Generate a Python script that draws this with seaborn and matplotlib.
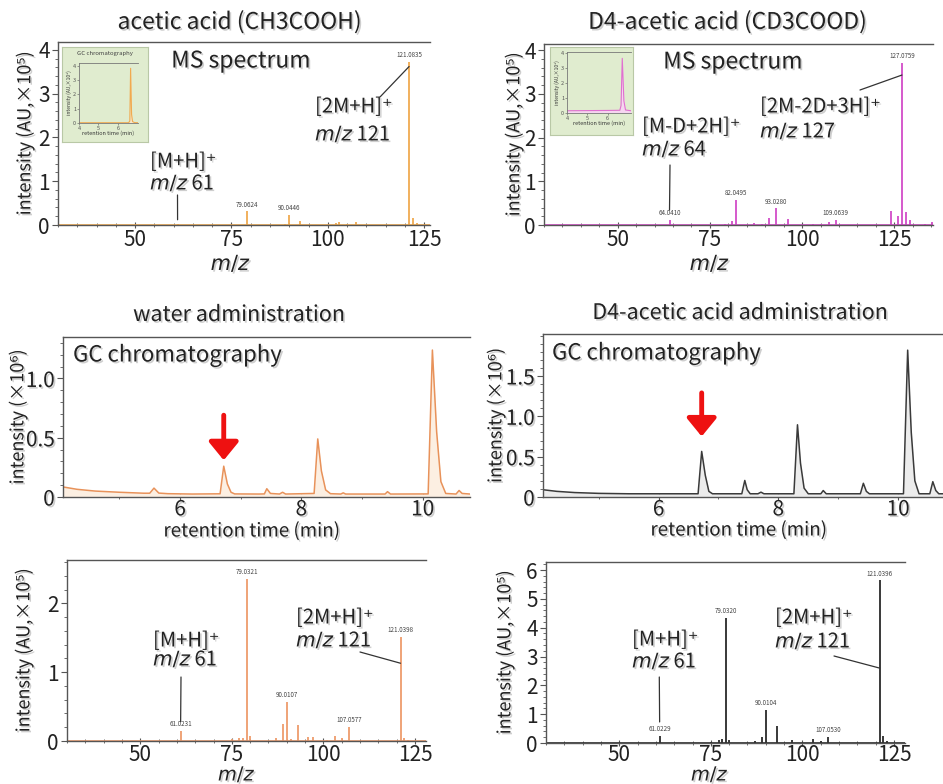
import numpy as np
import pandas as pd
import matplotlib
matplotlib.use("Agg")
import matplotlib.pyplot as plt
import seaborn as sns
from matplotlib.ticker import MultipleLocator, FixedLocator, AutoMinorLocator
import matplotlib.patheffects as pe
import matplotlib.text as mtext

# ---------------- data ----------------
# MS spectrum: acetic acid standard (top-left)
tl_mz = [61.02, 79.06, 88.9, 90.04, 92.9, 102.1, 103.0, 105.0, 107.2, 121.08, 122.0, 123.0]
tl_int = [0.03, 0.31, 0.03, 0.23, 0.08, 0.04, 0.07, 0.02, 0.07, 3.73, 0.17, 0.04]
tl_lab_mz = [79.06, 90.04, 121.08]
tl_lab_txt = ["79.0624", "90.0446", "121.0835"]

# MS spectrum: D4-acetic acid standard (top-right)
tr_mz = [64.04, 79.0, 81.1, 82.05, 86.9, 89.0, 90.9, 93.03, 96.2, 103.0, 105.0, 107.3,
         109.06, 124.1, 126.1, 127.08, 128.2, 129.2, 133.2, 135.2]
tr_int = [0.11, 0.02, 0.09, 0.58, 0.05, 0.03, 0.15, 0.38, 0.14, 0.03, 0.03, 0.08,
          0.11, 0.31, 0.21, 3.70, 0.30, 0.11, 0.03, 0.08]
tr_lab_mz = [64.04, 82.05, 93.03, 109.06, 127.08]
tr_lab_txt = ["64.0410", "82.0495", "93.0280", "109.0639", "127.0759"]

# MS spectrum: water administration (bottom-left)
bl_mz = [61.02, 75.0, 77.0, 78.0, 79.03, 80.0, 87.1, 89.1, 90.01, 91.2, 93.1, 95.9, 97.2,
         101.1, 103.1, 105.2, 107.06, 121.04, 122.1, 123.0]
bl_int = [0.15, 0.03, 0.05, 0.04, 2.35, 0.07, 0.05, 0.24, 0.57, 0.03, 0.23, 0.06, 0.06,
          0.02, 0.07, 0.05, 0.20, 1.51, 0.05, 0.02]
bl_lab_mz = [61.02, 79.03, 90.01, 107.06, 121.04]
bl_lab_txt = ["61.0231", "79.0321", "90.0107", "107.0577", "121.0398"]

# MS spectrum: D4-acetic acid administration (bottom-right)
br_mz = [61.02, 75.0, 77.1, 78.0, 79.03, 80.0, 87.1, 88.9, 90.01, 93.0, 97.1, 103.0,
         105.1, 107.05, 121.04, 122.1, 123.0]
br_int = [0.26, 0.05, 0.09, 0.14, 4.34, 0.12, 0.06, 0.20, 1.14, 0.58, 0.12, 0.14,
          0.07, 0.22, 5.64, 0.26, 0.07]
br_lab_mz = [61.02, 79.03, 90.01, 107.05, 121.04]
br_lab_txt = ["61.0229", "79.0320", "90.0104", "107.0530", "121.0396"]

# GC chromatogram: water administration (middle-left), x10^6
ml_t = [4.07, 4.3, 4.6, 5.0, 5.4, 5.50, 5.57, 5.65, 5.8, 6.2, 6.66, 6.72, 6.78, 6.84, 6.9,
        7.3, 7.39, 7.43, 7.49, 7.64, 7.69, 7.74, 8.21, 8.27, 8.33, 8.40, 8.48, 8.65, 8.69,
        8.73, 9.38, 9.42, 9.47, 10.09, 10.16, 10.23, 10.30, 10.38, 10.55, 10.6, 10.65, 10.78]
ml_i = [0.085, 0.065, 0.05, 0.04, 0.032, 0.032, 0.075, 0.033, 0.028, 0.025, 0.027, 0.26,
        0.11, 0.04, 0.026, 0.025, 0.026, 0.07, 0.03, 0.025, 0.04, 0.025, 0.03, 0.49, 0.22,
        0.06, 0.028, 0.025, 0.035, 0.025, 0.025, 0.045, 0.025, 0.026, 1.24, 0.55, 0.13,
        0.03, 0.025, 0.055, 0.03, 0.025]

# GC chromatogram: D4-acetic acid administration (middle-right), x10^6
mr_t = [4.07, 4.3, 4.6, 5.0, 5.5, 6.0, 6.66, 6.72, 6.78, 6.84, 6.9, 7.39, 7.44, 7.48, 7.53,
        7.66, 7.71, 7.76, 8.26, 8.32, 8.37, 8.43, 8.5, 8.71, 8.75, 8.8, 9.37, 9.42, 9.47,
        9.52, 10.09, 10.16, 10.22, 10.28, 10.35, 10.53, 10.58, 10.63, 10.68, 10.75]
mr_i = [0.09, 0.07, 0.055, 0.045, 0.04, 0.04, 0.04, 0.565, 0.27, 0.07, 0.04, 0.04, 0.205,
        0.09, 0.04, 0.04, 0.06, 0.04, 0.04, 0.895, 0.42, 0.11, 0.04, 0.04, 0.08, 0.04,
        0.04, 0.17, 0.07, 0.04, 0.04, 1.82, 0.8, 0.2, 0.04, 0.04, 0.19, 0.08, 0.04, 0.04]

# inset GC traces of the standards
in_l_t = [4.0, 6.55, 6.61, 6.65, 6.70, 6.75, 6.85, 7.03]
in_l_i = [0.02, 0.02, 0.15, 3.83, 0.6, 0.1, 0.03, 0.02]
in_r_t = [4.0, 6.0, 6.6, 6.66, 6.72, 6.80, 6.88, 7.15]
in_r_i = [0.15, 0.17, 0.18, 0.5, 3.63, 0.8, 0.2, 0.15]

ms_ticks = [50, 75, 100, 125]
gc_ticks = [6, 8, 10]

# ---------------- styling ----------------
sns.set_theme(style="ticks")
plt.rcParams["font.family"] = ["Noto Sans CJK JP", "DejaVu Sans"]
plt.rcParams["mathtext.fontset"] = "dejavusans"

W, H = 943, 784
fig = plt.figure(figsize=(W / 100, H / 100), dpi=100)
fig.patch.set_facecolor("white")

C_OR = "#f0aa50"
C_SAL = "#ee9c6c"
C_MAG = "#d24cc8"
C_BLK = "#2a2a2a"
C_SP = "#555555"
TXT = "#222222"


def fx(x):
    return x / W


def fy(y):
    return 1 - y / H


def add_ax(x0, y0, x1, y1, **kw):
    ax = fig.add_axes([x0 / W, 1 - y1 / H, (x1 - x0) / W, (y1 - y0) / H], **kw)
    ax._px = (x0, y0, x1, y1)
    return ax


def style_axes(ax, fs=15, xpad=2):
    for s in ["left", "bottom", "top"]:
        ax.spines[s].set_visible(True)
        ax.spines[s].set_color(C_SP)
        ax.spines[s].set_linewidth(1.0)
    ax.spines["right"].set_visible(False)
    ax.set_facecolor("white")
    ax.tick_params(axis="both", which="major", labelsize=fs, colors=C_SP,
                   labelcolor=TXT, length=4, width=0.8, pad=2)
    ax.tick_params(axis="both", which="minor", length=2.5, width=0.6, colors=C_SP)
    ax.tick_params(axis="x", which="both", direction="inout", pad=xpad)
    ax.tick_params(axis="y", which="both", direction="out")


def set_ylab(ax, text, px_x, fs=13):
    x0, y0, x1, y1 = ax._px
    ax.set_ylabel(text, fontsize=fs, color=TXT, va="center", ha="center")
    ax.yaxis.set_label_coords((px_x - x0) / (x1 - x0), 0.5)


def set_xlab(ax, text, px_x, px_y, fs=14, **kw):
    x0, y0, x1, y1 = ax._px
    ax.set_xlabel(text, fontsize=fs, color=TXT, va="center", ha="center", **kw)
    ax.xaxis.set_label_coords((px_x - x0) / (x1 - x0), (y1 - px_y) / (y1 - y0))


def ms_panel(ax, mz, inten, color, lab_mz, lab_txt, xlim, ylim, yt, xpad=1):
    style_axes(ax, xpad=xpad)
    ax.axhline(0, color=color, lw=1.2, zorder=1)
    ax.vlines(mz, 0, inten, color=color, lw=1.3, zorder=2)
    ax.set_xlim(*xlim)
    ax.set_ylim(*ylim)
    ax.xaxis.set_major_locator(FixedLocator(ms_ticks))
    ax.xaxis.set_minor_locator(MultipleLocator(5))
    ax.yaxis.set_major_locator(FixedLocator(yt))
    ax.yaxis.set_minor_locator(AutoMinorLocator(5))
    lookup = dict(zip(mz, inten))
    for m, t in zip(lab_mz, lab_txt):
        ax.annotate(t, xy=(m, lookup[m]), xytext=(0, 2), textcoords="offset points",
                    ha="center", va="bottom", fontsize=4.5, color="#444444")


def connector(ax, xy, px, color="#333333"):
    ax.annotate("", xy=xy, xycoords="data", xytext=(fx(px[0]), fy(px[1])),
                textcoords="figure fraction",
                arrowprops=dict(arrowstyle="-", color=color, lw=0.9,
                                shrinkA=0, shrinkB=0))


def ion_label(x, y1, t1, y2, t2, fs=14.5):
    fig.text(fx(x), fy(y1), t1, ha="left", va="center", fontsize=fs, color=TXT)
    fig.text(fx(x), fy(y2), t2, ha="left", va="center", fontsize=fs, color=TXT)


# ---------- top-left: acetic acid MS ----------
ax1 = add_ax(58, 42, 430, 225)
ms_panel(ax1, tl_mz, tl_int, C_OR, tl_lab_mz, tl_lab_txt, (30, 126.5), (0, 4.18), [0, 1, 2, 3, 4])
set_ylab(ax1, "intensity (AU,×10⁵)", 25)
set_xlab(ax1, r"$\mathit{m/z}$", 231, 264, fs=15)
fig.text(fx(240), fy(22), "acetic acid (CH3COOH)", ha="center", va="center", fontsize=16.5, color=TXT)
fig.text(fx(241), fy(61), "MS spectrum", ha="center", va="center", fontsize=16.5, color=TXT)
ion_label(150, 162, "[M+H]⁺", 184, r"$\mathit{m/z}$ 61")
ion_label(315, 107, "[2M+H]⁺", 135, r"$\mathit{m/z}$ 121")
connector(ax1, (61.02, 0.12), (177.5, 195))
connector(ax1, (121.08, 3.62), (380, 97))

# ---------- top-right: D4-acetic acid MS ----------
ax2 = add_ax(544, 44, 933, 225)
ms_panel(ax2, tr_mz, tr_int, C_MAG, tr_lab_mz, tr_lab_txt, (30, 135.5), (0, 4.14), [0, 1, 2, 3, 4])
set_ylab(ax2, "intensity (AU,×10⁵)", 514)
set_xlab(ax2, r"$\mathit{m/z}$", 710, 264, fs=15)
fig.text(fx(728), fy(22), "D4-acetic acid (CD3COOD)", ha="center", va="center", fontsize=16.5, color=TXT)
fig.text(fx(733), fy(62), "MS spectrum", ha="center", va="center", fontsize=16.5, color=TXT)
ion_label(642, 127, "[M-D+2H]⁺", 150, r"$\mathit{m/z}$ 64")
ion_label(760, 107, "[2M-2D+3H]⁺", 132, r"$\mathit{m/z}$ 127")
connector(ax2, (64.04, 0.34), (670, 165))
connector(ax2, (127.08, 3.43), (860, 90))


# ---------- insets ----------
def inset(box, inner, t, i, color, fill, xlim, ylim, title=None):
    bx = add_ax(*box)
    bx.set_facecolor("#e0eccf")
    bx.set_xticks([])
    bx.set_yticks([])
    for s in bx.spines.values():
        s.set_color("#b9c8a6")
        s.set_linewidth(0.8)
    ia = add_ax(*inner)
    ia.set_facecolor("none")
    for s in ["left", "bottom", "top"]:
        ia.spines[s].set_color("#777777")
        ia.spines[s].set_linewidth(0.6)
    ia.spines["right"].set_visible(False)
    df = pd.DataFrame({"t": t, "i": i})
    ia.fill_between(df["t"], df["i"], 0, color=fill, lw=0)
    sns.lineplot(data=df, x="t", y="i", ax=ia, color=color, lw=0.8)
    ia.set_xlim(*xlim)
    ia.set_ylim(*ylim)
    ia.set_xticks([4, 5, 6])
    ia.set_yticks([0, 1, 2, 3, 4])
    ia.tick_params(labelsize=4, length=1.5, width=0.4, pad=0.5, colors="#555555")
    ia.set_xlabel("retention time (min)", fontsize=4, labelpad=0, color="#333333")
    ia.set_ylabel("intensity (AU,×10⁵)", fontsize=3.5, labelpad=0.5, color="#333333")
    if title:
        fig.text(fx(title[0]), fy(title[1]), "GC chromatography", ha="center", va="center",
                 fontsize=4.3, color="#444444")


inset((62, 47, 148, 142), (79, 63, 138, 123), in_l_t, in_l_i, C_OR, "#fbe7c8",
      (4, 7.03), (0, 4.2), title=(105, 53))
inset((550, 47, 633, 135), (567, 52, 631, 113), in_r_t, in_r_i, "#e070d0", "#f6d6f0",
      (4, 7.15), (0, 4.05))


# ---------- chromatograms ----------
def gc_panel(ax, t, i, color, fill, xlim, ylim, yt, ytl):
    style_axes(ax, xpad=-1)
    df = pd.DataFrame({"t": t, "i": i})
    ax.fill_between(df["t"], df["i"], 0, color=fill, lw=0)
    sns.lineplot(data=df, x="t", y="i", ax=ax, color=color, lw=1.1)
    ax.set_xlim(*xlim)
    ax.set_ylim(*ylim)
    ax.xaxis.set_major_locator(FixedLocator(gc_ticks))
    ax.xaxis.set_minor_locator(MultipleLocator(1))
    ax.yaxis.set_major_locator(FixedLocator(yt))
    ax.yaxis.set_minor_locator(AutoMinorLocator(5))
    ax.set_yticklabels(ytl)


ax3 = add_ax(63, 337, 470, 497)
gc_panel(ax3, ml_t, ml_i, "#e8925a", "#fcefe2", (4.07, 10.78), (0, 1.35), [0, 0.5, 1.0], ["0", "0.5", "1.0"])
set_ylab(ax3, "intensity (×10⁶)", 18)
set_xlab(ax3, "retention time (min)", 252, 531, fs=13.5)
fig.text(fx(239), fy(315), "water administration", ha="center", va="center", fontsize=15.5, color=TXT)
fig.text(fx(73), fy(355), "GC chromatography", ha="left", va="center", fontsize=16, color=TXT)
ax3.annotate("", xy=(6.72, 0.31), xytext=(6.72, 0.69),
             arrowprops=dict(arrowstyle="-|>,head_width=0.45,head_length=0.55", color="#ee1111",
                             lw=3.5, mutation_scale=20, shrinkA=0, shrinkB=0))

ax4 = add_ax(543, 334, 943, 497)
gc_panel(ax4, mr_t, mr_i, "#3a3a3a", "#ececec", (4.07, 10.75), (0, 2.02), [0, 0.5, 1.0, 1.5],
         ["0", "0.5", "1.0", "1.5"])
set_ylab(ax4, "intensity (×10⁶)", 496)
set_xlab(ax4, "retention time (min)", 739, 530, fs=13.5)
fig.text(fx(740), fy(313), "D4-acetic acid administration", ha="center", va="center", fontsize=15.5, color=TXT)
fig.text(fx(552), fy(353), "GC chromatography", ha="left", va="center", fontsize=16, color=TXT)
ax4.annotate("", xy=(6.72, 0.75), xytext=(6.72, 1.29),
             arrowprops=dict(arrowstyle="-|>,head_width=0.45,head_length=0.55", color="#ee1111",
                             lw=3.5, mutation_scale=20, shrinkA=0, shrinkB=0))

# ---------- bottom-left: water administration MS ----------
ax5 = add_ax(67, 560, 426, 741)
ms_panel(ax5, bl_mz, bl_int, C_SAL, bl_lab_mz, bl_lab_txt, (30, 128), (0, 2.63), [0, 1, 2], xpad=0)
set_ylab(ax5, "intensity (AU,×10⁵)", 24)
set_xlab(ax5, r"$\mathit{m/z}$", 237, 775, fs=14)
ion_label(153, 641, "[M+H]⁺", 660, r"$\mathit{m/z}$ 61")
ion_label(296, 618, "[2M+H]⁺", 641, r"$\mathit{m/z}$ 121")
connector(ax5, (61.02, 0.28), (181, 677))
connector(ax5, (121.04, 1.13), (360, 652))

# ---------- bottom-right: D4 administration MS ----------
ax6 = add_ax(546, 562, 905, 743)
ms_panel(ax6, br_mz, br_int, C_BLK, br_lab_mz, br_lab_txt, (30, 128), (0, 6.28), [0, 1, 2, 3, 4, 5, 6], xpad=-1.5)
set_ylab(ax6, "intensity (AU,×10⁵)", 505)
set_xlab(ax6, r"$\mathit{m/z}$", 710, 775, fs=14)
ion_label(632, 640, "[M+H]⁺", 662, r"$\mathit{m/z}$ 61")
ion_label(775, 618, "[2M+H]⁺", 642, r"$\mathit{m/z}$ 121")
connector(ax6, (61.02, 0.73), (659.3, 677))
connector(ax6, (121.04, 2.6), (834, 656))

# soft text shadow like the reference
shadow = [pe.withSimplePatchShadow(offset=(1.2, -1.2), shadow_rgbFace=(0.45, 0.45, 0.45), alpha=0.35)]
for t in fig.findobj(mtext.Text):
    if t.get_text() and t.get_fontsize() >= 8:
        t.set_path_effects(shadow)

fig.savefig("out.png", dpi=100, facecolor="white")
